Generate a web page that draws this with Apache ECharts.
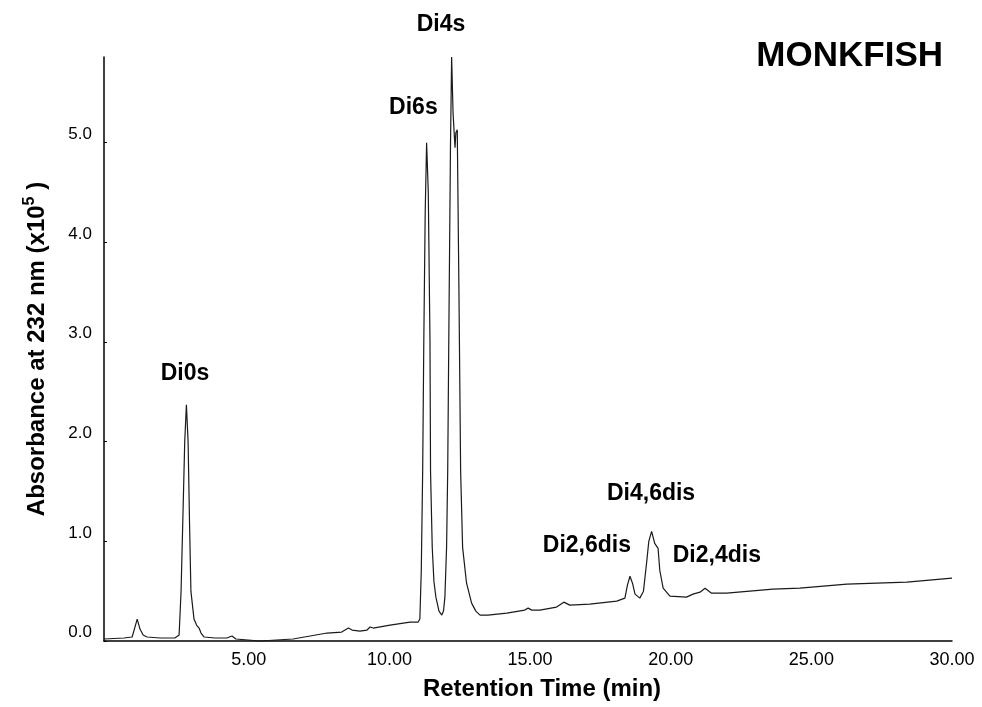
<!DOCTYPE html>
<html>
<head>
<meta charset="utf-8">
<script src="https://cdn.jsdelivr.net/npm/echarts@6/dist/echarts.min.js"></script>
<style>
  html, body { margin: 0; padding: 0; background: #fff; }
  #main { width: 982px; height: 707px; }
</style>
</head>
<body>
<div id="main"></div>
<script>
var FONT = 'Liberation Sans, Arial, sans-serif';

// retention time (min) and absorbance (x10^5)
var times = [-0.15, 0.56, 0.85, 0.93, 1.03, 1.13, 1.24, 1.38, 1.84, 2.37, 2.52, 2.59, 2.66, 2.72, 2.78,
    2.84, 2.89, 2.94, 3.05, 3.14, 3.23, 3.30, 3.41, 3.80, 4.22, 4.40, 4.54, 5.40, 6.57, 7.18,
    7.78, 8.30, 8.54, 8.67, 8.95, 9.20, 9.31, 9.42, 10.02, 10.73, 11.02, 11.08, 11.13, 11.18, 11.22,
    11.27, 11.32, 11.38, 11.44, 11.46, 11.52, 11.58, 11.65, 11.76, 11.86, 11.92, 11.97, 12.03, 12.07, 12.12,
    12.17, 12.21, 12.26, 12.33, 12.36, 12.41, 12.47, 12.53, 12.60, 12.74, 12.92, 13.07, 13.22, 13.50, 14.17,
    14.81, 14.93, 15.06, 15.35, 15.94, 16.20, 16.41, 17.12, 18.08, 18.37, 18.46, 18.55, 18.64, 18.73, 18.90,
    19.03, 19.14, 19.22, 19.32, 19.43, 19.55, 19.61, 19.73, 19.97, 20.56, 20.79, 21.04, 21.22, 21.45, 21.99,
    23.63, 24.59, 26.26, 28.39, 30.0];
var absorbance = [0.02, 0.03, 0.04, 0.12, 0.22, 0.12, 0.06, 0.04, 0.03, 0.03, 0.06, 0.5, 1.3, 2.0, 2.37,
    2.0, 1.2, 0.5, 0.22, 0.16, 0.13, 0.08, 0.04, 0.03, 0.03, 0.05, 0.02, 0.0, 0.02, 0.05,
    0.08, 0.09, 0.13, 0.11, 0.10, 0.11, 0.14, 0.13, 0.16, 0.19, 0.19, 0.22, 0.7, 1.7, 3.0,
    4.3, 5.0, 4.5, 3.0, 1.7, 0.94, 0.6, 0.44, 0.30, 0.26, 0.30, 0.44, 0.94, 1.7, 3.4,
    5.0, 5.86, 5.3, 4.95, 5.1, 5.13, 3.5, 1.7, 0.94, 0.58, 0.38, 0.30, 0.26, 0.26, 0.28,
    0.31, 0.33, 0.31, 0.31, 0.34, 0.39, 0.36, 0.37, 0.40, 0.43, 0.56, 0.65, 0.58, 0.47, 0.43,
    0.5, 0.78, 1.0, 1.10, 0.98, 0.93, 0.71, 0.53, 0.45, 0.44, 0.47, 0.49, 0.53, 0.48, 0.48,
    0.52, 0.53, 0.57, 0.59, 0.63];

var xTicks = [5, 10, 15, 20, 25, 30];

// peak names and where their labels sit
var peakNames = ['Di0s', 'Di6s', 'Di4s', 'Di2,6dis', 'Di4,6dis', 'Di2,4dis'];
var peakLabelTime = [2.73, 10.85, 11.83, 17.02, 19.30, 21.64];
var peakLabelValue = [2.68, 5.35, 6.18, 0.96, 1.48, 0.86];

var trace = times.map(function (t, i) { return [t, absorbance[i]]; });
var peaks = peakNames.map(function (n, i) {
    return { name: n, value: [peakLabelTime[i], peakLabelValue[i]] };
});

var myChart = echarts.init(document.getElementById('main'));

var option = {
    animation: false,
    backgroundColor: '#fff',
    title: {
        text: 'MONKFISH',
        right: 34,
        top: 34,
        textStyle: { fontFamily: FONT, fontSize: 35, fontWeight: 'bold', color: '#000' }
    },
    grid: { left: 104, right: 30, top: 57, bottom: 66 },
    xAxis: {
        type: 'value',
        min: -0.15,
        max: 30,
        name: 'Retention Time (min)',
        nameLocation: 'middle',
        nameGap: 36,
        nameTextStyle: { fontFamily: FONT, fontSize: 24, fontWeight: 'bold', color: '#000', padding: [0, 0, 0, 28] },
        axisLine: { lineStyle: { color: '#000', width: 1.5 } },
        axisTick: { show: false },
        splitLine: { show: false },
        axisLabel: {
            customValues: xTicks,
            margin: 10,
            fontFamily: FONT,
            fontSize: 18,
            color: '#000',
            formatter: function (v) { return v.toFixed(2); }
        }
    },
    yAxis: {
        type: 'value',
        min: 0,
        max: 5.86,
        interval: 1,
        name: '{a|Absorbance at 232 nm (x10}{s|5}{a| )}',
        nameLocation: 'middle',
        nameRotate: 90,
        nameGap: 52,
        nameTextStyle: {
            rich: {
                a: { fontFamily: FONT, fontSize: 24, fontWeight: 'bold', color: '#000', lineHeight: 30 },
                s: { fontFamily: FONT, fontSize: 16, fontWeight: 'bold', color: '#000', lineHeight: 30, verticalAlign: 'top' }
            }
        },
        axisLine: { show: true, onZero: false, lineStyle: { color: '#000', width: 1.5 } },
        axisTick: { show: true, inside: true, length: 3, lineStyle: { color: '#000' } },
        splitLine: { show: false },
        axisLabel: {
            showMaxLabel: false,
            margin: 12,
            fontFamily: FONT,
            fontSize: 17,
            color: '#000',
            verticalAlign: 'bottom',
            formatter: function (v) { return v.toFixed(1); }
        }
    },
    series: [
        {
            type: 'line',
            data: trace,
            symbol: 'none',
            clip: false,
            lineStyle: { color: '#1a1a1a', width: 1.2 }
        },
        {
            type: 'scatter',
            data: peaks,
            symbolSize: 0,
            clip: false,
            silent: true,
            itemStyle: { opacity: 1 },
            label: {
                show: true,
                position: 'inside',
                formatter: '{b}',
                fontFamily: FONT,
                fontSize: 23,
                fontWeight: 'bold',
                color: '#000',
                opacity: 1
            }
        }
    ]
};

myChart.setOption(option);
</script>
</body>
</html>
